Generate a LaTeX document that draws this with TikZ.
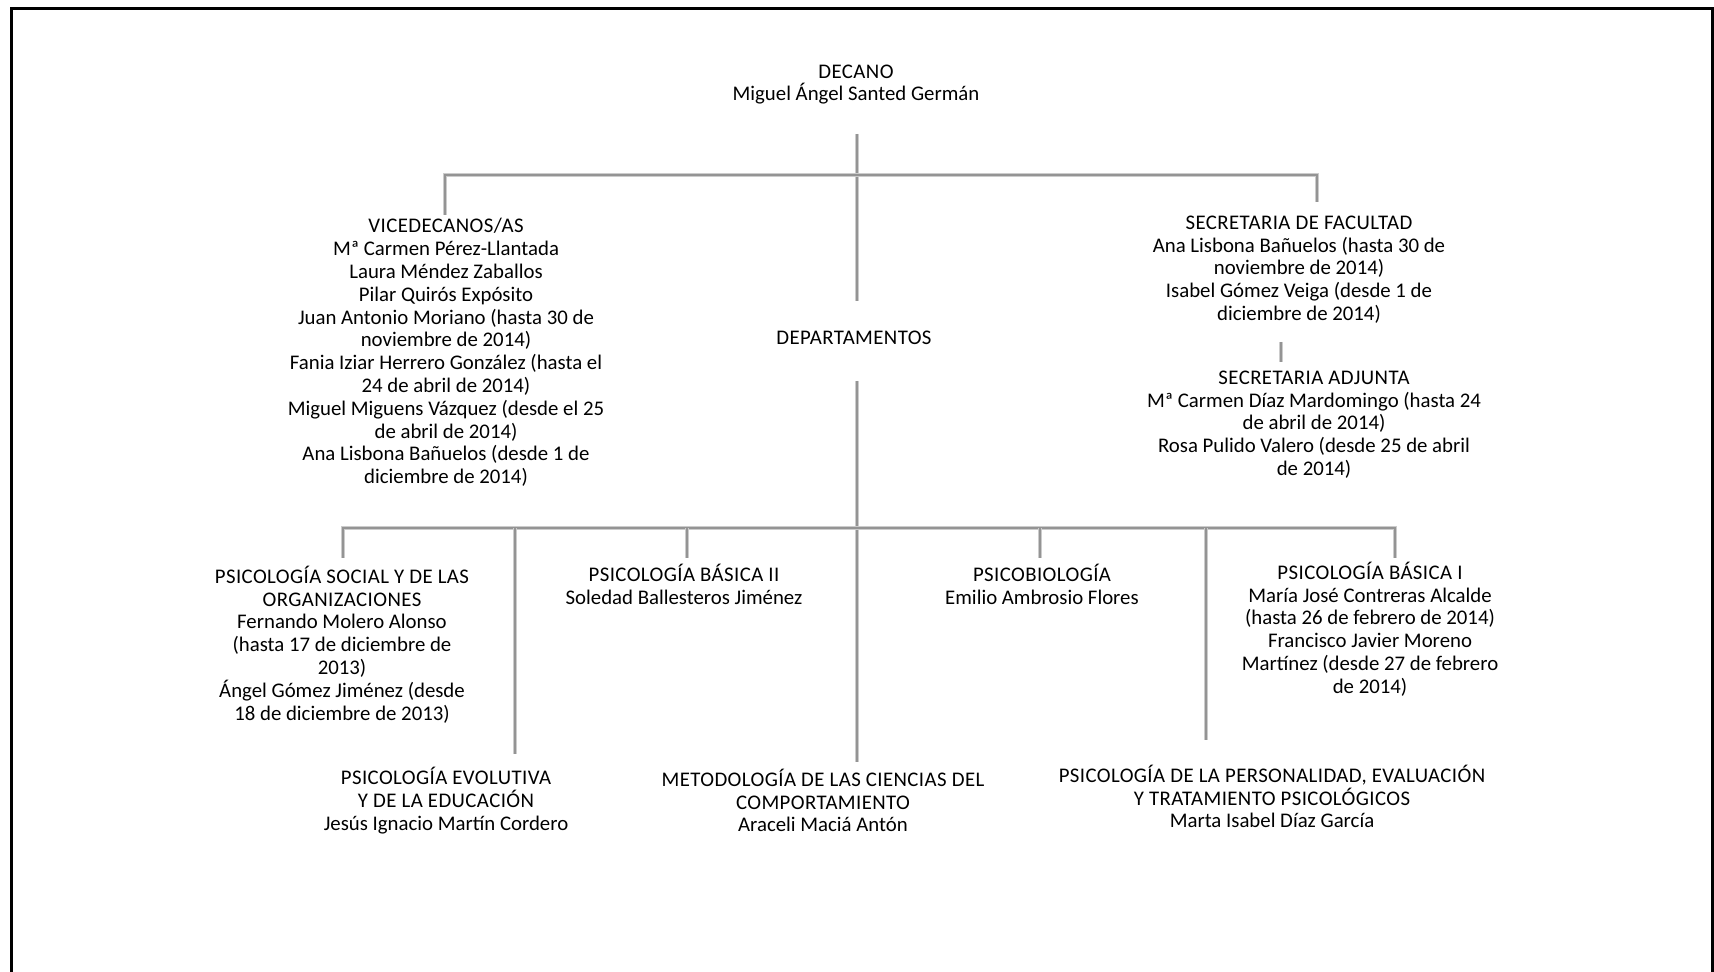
\documentclass[tikz,border=0pt]{standalone}
\usepackage{fontspec}
\setmainfont{Carlito}
\newfontfamily\capf[LetterSpace=2.0]{Carlito}
\newcommand{\CP}[1]{{\capf #1}}
\begin{document}
\begin{tikzpicture}[x=0.5pt,y=-0.5pt,
  lbl/.style={align=center,inner sep=0pt,font=\fontsize{10.4}{11.4}\selectfont},
  conn/.style={draw=black!20,line width=2.2pt,line join=miter,
    postaction={draw=black!42,line width=0.9pt}},
  frame/.style={draw=black,line width=1.5pt}]
\useasboundingbox (0,0) rectangle (1714,972);
% frame
\coordinate (fbl) at (11,975);
\coordinate (ftl) at (11,9);
\coordinate (ftr) at (1712,9);
\coordinate (fbr) at (1712,975);
\draw[frame] (fbl) -- (ftl) -- (ftr) -- (fbr);
% nodes
\node[lbl] (dec) at (856,84.5) {\CP{DECANO}\\Miguel Ángel Santed Germán};
\node[lbl] (vice) at (446,352.5) {\CP{VICEDECANOS/AS}\\Mª Carmen Pérez-Llantada\\Laura Méndez Zaballos\\Pilar Quirós Expósito\\Juan Antonio Moriano (hasta 30 de\\noviembre de 2014)\\Fania Iziar Herrero González (hasta el\\24 de abril de 2014)\\Miguel Miguens Vázquez (desde el 25\\de abril de 2014)\\Ana Lisbona Bañuelos (desde 1 de\\diciembre de 2014)};
\node[lbl] (secfac) at (1299,269.5) {\CP{SECRETARIA DE FACULTAD}\\Ana Lisbona Bañuelos (hasta 30 de\\noviembre de 2014)\\Isabel Gómez Veiga (desde 1 de\\diciembre de 2014)};
\node[lbl] (secadj) at (1314,424.5) {\CP{SECRETARIA ADJUNTA}\\Mª Carmen Díaz Mardomingo (hasta 24\\de abril de 2014)\\Rosa Pulido Valero (desde 25 de abril\\de 2014)};
\node[lbl] (dep) at (854,338) {\CP{DEPARTAMENTOS}};
\node[lbl] (psoc) at (342,644.5) {\CP{PSICOLOGÍA SOCIAL Y DE LAS}\\\CP{ORGANIZACIONES}\\Fernando Molero Alonso\\(hasta 17 de diciembre de\\2013)\\Ángel Gómez Jiménez (desde\\18 de diciembre de 2013)};
\node[lbl] (bii) at (684,584) {\CP{PSICOLOGÍA BÁSICA II}\\Soledad Ballesteros Jiménez};
\node[lbl] (pbio) at (1042,584) {\CP{PSICOBIOLOGÍA}\\Emilio Ambrosio Flores};
\node[lbl] (bi) at (1370,629) {\CP{PSICOLOGÍA BÁSICA I}\\María José Contreras Alcalde\\(hasta 26 de febrero de 2014)\\Francisco Javier Moreno\\Martínez (desde 27 de febrero\\de 2014)};
\node[lbl] (evol) at (446,800.5) {\CP{PSICOLOGÍA EVOLUTIVA}\\\CP{Y DE LA EDUCACIÓN}\\Jesús Ignacio Martín Cordero};
\node[lbl] (metod) at (823,800.5) {\CP{METODOLOGÍA DE LAS CIENCIAS DEL}\\\CP{COMPORTAMIENTO}\\Araceli Maciá Antón};
\node[lbl] (pers) at (1272,796.5) {\CP{PSICOLOGÍA DE LA PERSONALIDAD, EVALUACIÓN}\\\CP{Y TRATAMIENTO PSICOLÓGICOS}\\Marta Isabel Díaz García};
% connector coordinates
\coordinate (d1) at (857,134);
\coordinate (d2) at (857,301);
\coordinate (tl0) at (445,215);
\coordinate (tl) at (445,175);
\coordinate (tr) at (1317,175);
\coordinate (tr0) at (1317,202);
\coordinate (s1) at (1281,342);
\coordinate (s2) at (1281,362);
\coordinate (m1) at (857,381);
\coordinate (m2) at (857,762);
\coordinate (bl0) at (343,558);
\coordinate (bl) at (343,528);
\coordinate (br) at (1395,528);
\coordinate (br0) at (1395,558);
\coordinate (e1) at (515,528);
\coordinate (e2) at (515,754);
\coordinate (b1) at (687,528);
\coordinate (b2) at (687,558);
\coordinate (p1) at (1040,528);
\coordinate (p2) at (1040,558);
\coordinate (q1) at (1206,528);
\coordinate (q2) at (1206,740);
% connectors
\path[conn] (d1) -- (d2);
\path[conn] (tl0) -- (tl) -- (tr) -- (tr0);
\path[conn] (s1) -- (s2);
\path[conn] (m1) -- (m2);
\path[conn] (bl0) -- (bl) -- (br) -- (br0);
\path[conn] (e1) -- (e2);
\path[conn] (b1) -- (b2);
\path[conn] (p1) -- (p2);
\path[conn] (q1) -- (q2);
\end{tikzpicture}
\end{document}
